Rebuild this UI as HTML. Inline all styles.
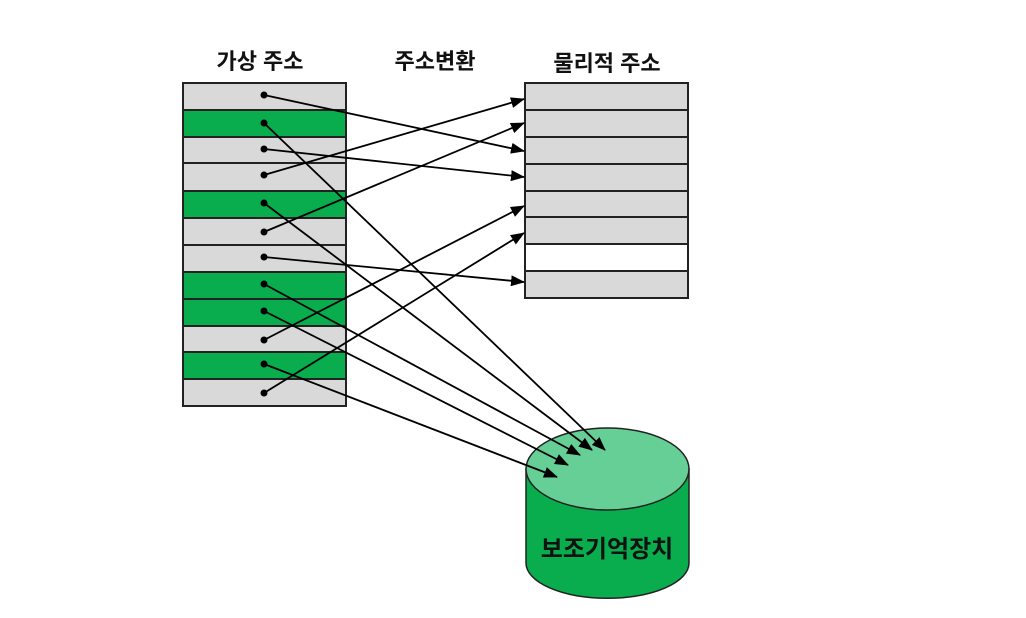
<!DOCTYPE html>
<html><head><meta charset="utf-8"><style>
html,body{margin:0;padding:0;background:#fff;width:1026px;height:618px;overflow:hidden}
text{font-family:"Liberation Sans","Noto Sans CJK KR",sans-serif;font-weight:bold;fill:#111}
</style></head><body>
<svg width="1026" height="618" viewBox="0 0 1026 618" xmlns="http://www.w3.org/2000/svg">
<defs><marker id="a" markerWidth="14" markerHeight="11" refX="13" refY="5.5" orient="auto" markerUnits="userSpaceOnUse"><path d="M0,0 L14,5.5 L0,11 z" fill="#000"/></marker></defs>
<text x="260" y="69" font-size="22" text-anchor="middle">가상 주소</text>
<text x="435" y="69" font-size="22" text-anchor="middle">주소변환</text>
<text x="607" y="71" font-size="22" text-anchor="middle">물리적 주소</text>
<g stroke="#222" stroke-width="2">
<rect x="183" y="83" width="163" height="27" fill="#d9d9d9"/>
<rect x="183" y="110" width="163" height="27" fill="#09ad4d"/>
<rect x="183" y="137" width="163" height="26" fill="#d9d9d9"/>
<rect x="183" y="163" width="163" height="28" fill="#d9d9d9"/>
<rect x="183" y="191" width="163" height="27" fill="#09ad4d"/>
<rect x="183" y="218" width="163" height="27" fill="#d9d9d9"/>
<rect x="183" y="245" width="163" height="27" fill="#d9d9d9"/>
<rect x="183" y="272" width="163" height="27" fill="#09ad4d"/>
<rect x="183" y="299" width="163" height="27" fill="#09ad4d"/>
<rect x="183" y="326" width="163" height="26" fill="#d9d9d9"/>
<rect x="183" y="352" width="163" height="27" fill="#09ad4d"/>
<rect x="183" y="379" width="163" height="27" fill="#d9d9d9"/>
<rect x="525" y="83" width="163" height="27" fill="#d9d9d9"/>
<rect x="525" y="110" width="163" height="27" fill="#d9d9d9"/>
<rect x="525" y="137" width="163" height="27" fill="#d9d9d9"/>
<rect x="525" y="164" width="163" height="27" fill="#d9d9d9"/>
<rect x="525" y="191" width="163" height="26" fill="#d9d9d9"/>
<rect x="525" y="217" width="163" height="27" fill="#d9d9d9"/>
<rect x="525" y="244" width="163" height="27" fill="#ffffff"/>
<rect x="525" y="271" width="163" height="27" fill="#d9d9d9"/>
</g>
<path d="M526,469 L526,563 A81,35 0 0 0 689,563 L689,469 Z" fill="#09ad4d" stroke="#222" stroke-width="1.5"/>
<ellipse cx="607.5" cy="469" rx="81.5" ry="41" fill="#66cf95" stroke="#222" stroke-width="1.5"/>
<text x="607" y="557" font-size="24" text-anchor="middle">보조기억장치</text>
<g stroke="#000" stroke-width="1.8" fill="none" marker-end="url(#a)">
<line x1="264" y1="175" x2="524" y2="99"/>
<line x1="264" y1="232" x2="524" y2="123"/>
<line x1="264" y1="95" x2="524" y2="151"/>
<line x1="264" y1="149" x2="524" y2="177"/>
<line x1="264" y1="340" x2="524" y2="206"/>
<line x1="264" y1="393" x2="524" y2="233"/>
<line x1="264" y1="257" x2="524" y2="282"/>
<line x1="264" y1="123" x2="605" y2="450"/>
<line x1="264" y1="203" x2="592" y2="450"/>
<line x1="264" y1="284" x2="580" y2="455"/>
<line x1="264" y1="311" x2="568" y2="465"/>
<line x1="264" y1="364" x2="557" y2="477"/>
</g>
<g fill="#000">
<circle cx="264" cy="95" r="3.5"/><circle cx="264" cy="123" r="3.5"/><circle cx="264" cy="149" r="3.5"/><circle cx="264" cy="175" r="3.5"/><circle cx="264" cy="203" r="3.5"/><circle cx="264" cy="232" r="3.5"/><circle cx="264" cy="257" r="3.5"/><circle cx="264" cy="284" r="3.5"/><circle cx="264" cy="311" r="3.5"/><circle cx="264" cy="340" r="3.5"/><circle cx="264" cy="364" r="3.5"/><circle cx="264" cy="393" r="3.5"/>
</g>
</svg>
</body></html>
